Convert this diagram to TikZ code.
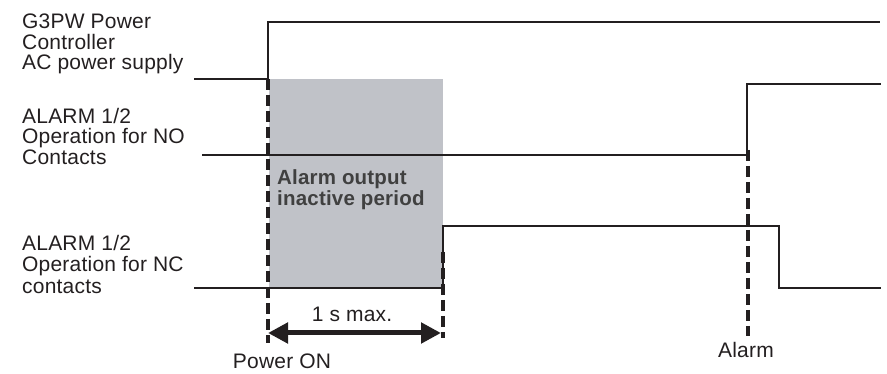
\documentclass[tikz,border=0pt]{standalone}
\usepackage{fontspec}
\setmainfont{Liberation Sans}[LetterSpace=1]
\usetikzlibrary{arrows.meta,positioning}
\definecolor{boxgray}{RGB}{192,194,200}
\definecolor{ink}{RGB}{35,31,32}
\tikzset{
  wave/.style    ={line width=2pt,ink,line join=miter},
  guide/.style   ={line width=3.2pt,ink,dash pattern=on 11pt off 5pt},
  span/.style    ={line width=5pt,ink,{Triangle[length=20pt,width=20pt]}-{Triangle[length=20pt,width=20pt]}},
  lbl/.style     ={font=\fontsize{21}{20.5}\selectfont,inner sep=0pt,text=ink},
  siglbl/.style  ={lbl,align=left,anchor=north west},
  boxlbl/.style  ={siglbl,font=\fontsize{20.5}{21}\selectfont\bfseries,text=black!75},
}

\begin{document}
\begin{tikzpicture}[x=1pt,y=-1pt]
  \useasboundingbox (0,0) rectangle (887,374);
  % masked period after power on
  \fill[boxgray] (269,79) rectangle (443,288);
  % TIME MARKS: power on, end of mask, alarm
  \coordinate (pon)   at (268,79);
  \coordinate (ponb)  at (268,343);
  \coordinate (lim)   at (443,252);
  \coordinate (limb)  at (443,338);
  \coordinate (alm)   at (748,150);
  \coordinate (almb)  at (748,336);
  \draw[guide] (pon) -- (ponb);
  \draw[guide] (lim) -- (limb);
  \draw[guide] (alm) -- (almb);
  % WAVES
  \draw[wave] (194,79) -- (268,79) -- (268,22) -- (880,22);
  \draw[wave] (202,155) -- (747,155) -- (747,84) -- (881,84);
  \draw[wave] (194,288) -- (443,288) -- (443,226) -- (779,226) -- (779,288) -- (881,288);
  % span of the mask
  \coordinate (spa) at (268,333);
  \coordinate (spb) at (441,333);
  \draw[span] (spa) -- (spb);
  % LABELS
  \node[siglbl] (pwrlbl) at (22,14) {G3PW Power\\Controller\\AC power supply};
  \node[siglbl] (nolbl)  at (22,108) {ALARM 1/2\\Operation for NO\\Contacts};
  \node[siglbl,font=\fontsize{21}{21.5}\selectfont] (nclbl) at (22,235) {ALARM 1/2\\Operation for NC\\contacts};
  \node[boxlbl] (inactlbl) at (277,169) {Alarm output\\inactive period};
  \node[lbl,anchor=base] (spanlbl)  at (352,322) {1 s max.};
  \node[lbl,anchor=base] (ponlbl)   at (282,368) {Power ON};
  \node[lbl,anchor=base] (alarmlbl) at (746,358) {Alarm};
\end{tikzpicture}
\end{document}
